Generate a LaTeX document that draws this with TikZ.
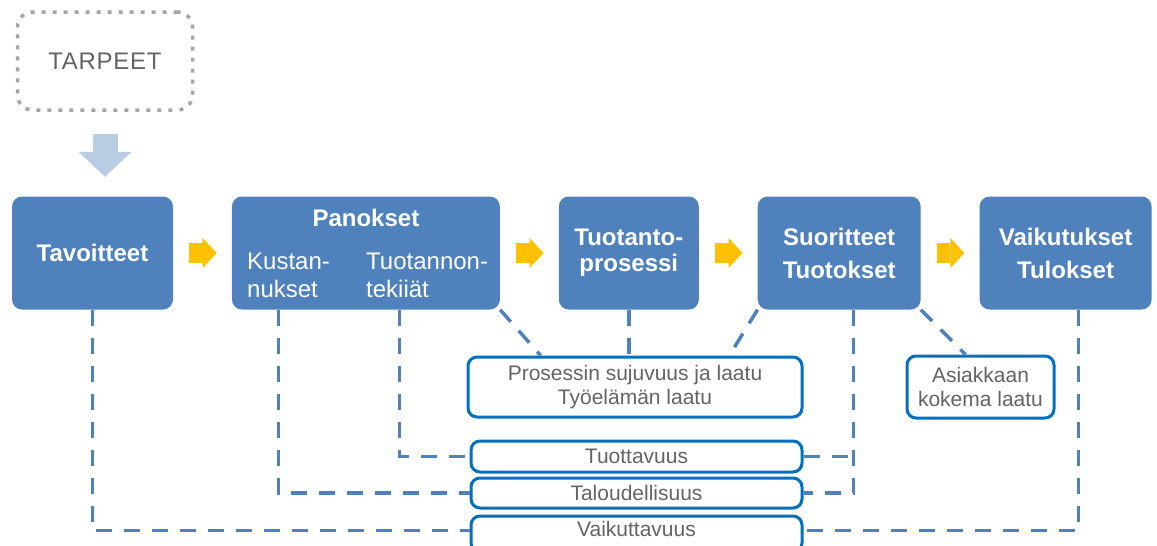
\documentclass[tikz,border=0pt]{standalone}
\usepackage{fontspec}
\setmainfont{Liberation Sans}
\newfontfamily\spacedfont[LetterSpace=3]{Liberation Sans}
\usetikzlibrary{calc,positioning,arrows.meta}
\definecolor{boxblue}{RGB}{79,129,189}
\definecolor{rimblue}{RGB}{0,112,192}
\definecolor{paleblue}{RGB}{184,204,228}
\definecolor{arrowgold}{RGB}{255,192,0}
\definecolor{textgray}{RGB}{100,100,100}
\definecolor{dotgray}{RGB}{165,165,165}

\begin{document}
\begin{tikzpicture}[x=1pt,y=-1pt,node distance=58.5pt,
mainbox/.style={
% The shape:
rectangle, rounded corners=10pt,
minimum height=113pt, inner sep=0pt,
% The rest
fill=boxblue, text=white, align=center,
font=\bfseries\fontsize{24}{33}\selectfont},
measurebox/.style={
% The shape:
rectangle, rounded corners=9pt,
minimum width=331pt, inner sep=0pt,
% The rest
line width=3pt, draw=rimblue, fill=white,
text=textgray, align=center,
font=\fontsize{21}{24}\selectfont},
needbox/.style={
rectangle, rounded corners=15pt,
minimum width=175pt, minimum height=98pt,
line width=3.5pt, draw=dotgray, dash pattern=on 4pt off 7pt,
text=textgray, font=\spacedfont\fontsize{24}{24}\selectfont},
subtext/.style={anchor=north west, align=left, inner sep=0pt,
text=white, font=\fontsize{24}{28}\selectfont},
goldarrow/.style={line width=20pt, draw=arrowgold,
shorten <=16pt, shorten >=15pt,
-{Triangle[length=14pt,width=30pt,line width=0pt]}},
palearrow/.style={line width=25pt, draw=paleblue,
shorten <=22pt, shorten >=19.5pt,
-{Triangle[length=25pt,width=53pt,line width=0pt]}},
dashline/.style={draw=boxblue, line width=3.5pt,
dash pattern=on 16pt off 12pt}]

\useasboundingbox (0,0) rectangle (1157,546);

\node (tarp) [needbox] at (105,61) {TARPEET};

\node (tav) [mainbox,minimum width=161pt] at (92.5,253) {Tavoitteet};
\node (pan) [mainbox,minimum width=268pt,right=of tav] {};
\node (tuo) [mainbox,minimum width=140pt,right=of pan] {Tuotanto-\\[-7pt]prosessi};
\node (suo) [mainbox,minimum width=163pt,right=of tuo] {Suoritteet\\Tuotokset};
\node (vai) [mainbox,minimum width=172pt,right=of suo] {Vaikutukset\\Tulokset};

\node (panT) [text=white,font=\bfseries\fontsize{24}{24}\selectfont] at (pan.center |- 0,218) {Panokset};
\node (kus) [subtext] at (247,253) {Kustan-\\nukset};
\node (tpk) [subtext] at (366,253) {Tuotannon-\\tekiiät};

\node (pro) [measurebox,minimum width=334pt,minimum height=60pt] at (635,387) {Prosessin sujuvuus ja laatu\\Työelämän laatu};
\node (tuot) [measurebox,minimum height=31pt] at (636.5,456.5) {Tuottavuus};
\node (tal) [measurebox,minimum height=30pt] at (636.5,493) {Taloudellisuus};
\node (vaik) [measurebox,minimum height=36pt,text depth=10pt] at (636.5,534) {Vaikuttavuus};
\node (asi) [measurebox,minimum width=147pt,minimum height=62pt] at (980.5,387) {Asiakkaan\\kokema laatu};

\path
(tarp.south) edge[palearrow] (tarp.south |- tav.north)
(tav) edge[goldarrow] (pan) % wide arrows
(pan) edge[goldarrow] (tuo)
(tuo) edge[goldarrow] (suo)
(suo) edge[goldarrow] (vai);

\coordinate (sx) at ($(suo.south)+(14.5,0)$);
\draw[dashline] (tav.south) |- ($(vaik.north west)+(0,16)$);
\draw[dashline] ($(pan.south west)+(47,0)$) |- (tal.west);
\draw[dashline] ($(pan.south west)+(168,0)$) |- (tuot.west);
\draw[dashline] (pan.south east) -- ($(pro.north west)!0.22!(pro.north east)$);
\draw[dashline] (tuo.south) -- (tuo.south |- pro.north);
\draw[dashline] (suo.south west) -- ($(pro.north west)!0.78!(pro.north east)$);
\draw[dashline] (sx) |- (tal.east);
\draw[dashline] (tuot.east) -- (tuot.east -| sx);
\draw[dashline] (suo.south east) -- ($(asi.north west)!0.4!(asi.north east)$);
\draw[dashline] ($(vai.south)+(13,0)$) |- ($(vaik.north east)+(0,16)$);

\end{tikzpicture}
\end{document}
